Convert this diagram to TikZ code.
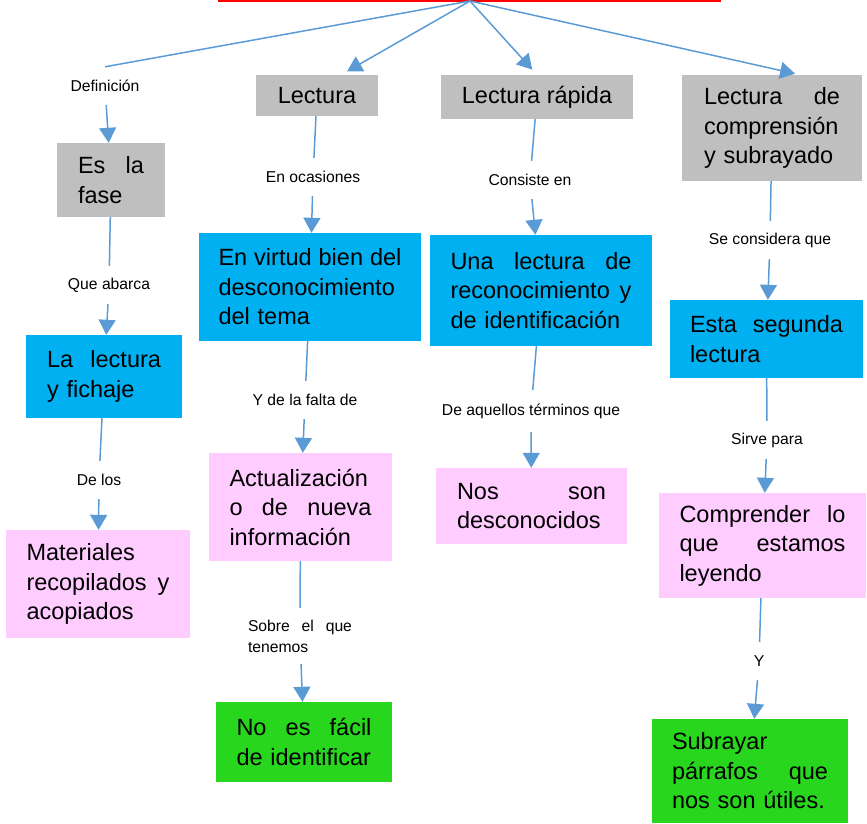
\documentclass[tikz,border=0pt]{standalone}
\usepackage{fontspec}
\setmainfont{Liberation Sans}
\usetikzlibrary{arrows.meta}

\definecolor{boxgray}{RGB}{191,191,191}
\definecolor{boxcyan}{RGB}{0,176,240}
\definecolor{boxpink}{RGB}{255,204,255}
\definecolor{boxgreen}{RGB}{41,214,30}
\definecolor{linkblue}{RGB}{91,155,213}

% one justified line inside a box
\newcommand{\jl}[1]{\makebox[\hsize][s]{\spaceskip=.278em plus 1fil\relax #1}}

\tikzset{
  concept/.style={inner sep=0pt, align=left, font=\fontsize{23.5}{29.5}\selectfont},
  lbl/.style={inner sep=0pt, minimum height=38pt, align=left, font=\fontsize{15.7}{21}\selectfont},
  link/.style={linkblue, line width=1.5pt},
  arrow/.style={link, -{Triangle[width=17pt,length=15pt]}}
}

\begin{document}
\begin{tikzpicture}[x=1pt,y=-1pt]
\useasboundingbox (0,0) rectangle (867,824);

\draw[red, line width=2pt] (218,1) -- (721,1);
\coordinate (hub) at (470,1);

% first row
\node[concept, fill=boxgray, minimum width=122pt, minimum height=41pt, align=center] (lectura) at (317,95.5) {Lectura};
\node[concept, fill=boxgray, minimum width=192pt, minimum height=44pt, align=center] (rapida) at (537,97) {Lectura rápida};
\node[concept, fill=boxgray, minimum width=180pt, minimum height=106pt, text width=136pt] (comp) at (772,128) {\jl{Lectura de}\\comprensión\\y subrayado};
\node[concept, fill=boxgray, minimum width=108pt, minimum height=74pt, text width=66pt] (fase) at (111,180) {\jl{Es la}\\fase};

% second row
\node[concept, fill=boxcyan, minimum width=156pt, minimum height=83pt, text width=114pt] (fichaje) at (104,376.5) {\jl{La lectura}\\y fichaje};
\node[concept, fill=boxcyan, minimum width=222pt, minimum height=108pt, text width=183pt] (virtud) at (310,287) {\jl{En virtud bien del}\\desconocimiento\\del tema};
\node[concept, fill=boxcyan, minimum width=222pt, minimum height=111pt, text width=181pt] (una) at (541,290.5) {\jl{Una lectura de}\\\jl{reconocimiento y}\\de identificación};
\node[concept, fill=boxcyan, minimum width=193pt, minimum height=78pt, text width=153pt] (esta) at (766.5,339) {\jl{Esta segunda}\\lectura};

% third row
\node[concept, fill=boxpink, minimum width=184pt, minimum height=108pt, text width=143pt] (materiales) at (98,584) {Materiales\\\jl{recopilados y}\\acopiados};
\node[concept, fill=boxpink, minimum width=183pt, minimum height=108pt, text width=142pt] (actual) at (300.5,507) {Actualización\\\jl{o de nueva}\\información};
\node[concept, fill=boxpink, minimum width=191pt, minimum height=76pt, text width=149pt] (nos) at (531.5,506) {\jl{Nos son}\\desconocidos};
\node[concept, fill=boxpink, minimum width=207pt, minimum height=105pt, text width=166pt] (compr) at (762.5,545.5) {\jl{Comprender lo}\\\jl{que estamos}\\leyendo};

% last row
\node[concept, fill=boxgreen, minimum width=176pt, minimum height=80pt, text width=135pt] (facil) at (304,742) {\jl{No es fácil}\\de identificar};
\node[concept, fill=boxgreen, minimum width=196pt, minimum height=104pt, text width=156pt] (subr) at (750,771) {Subrayar\\\jl{párrafos que}\\nos son útiles.};

% labels on the links
\node[lbl] (def) at (105,86) {Definición};
\node[lbl] (abarca) at (109,285) {Que abarca};
\node[lbl] (delos) at (99,480) {De los};
\node[lbl] (ocasiones) at (313,177) {En ocasiones};
\node[lbl] (falta) at (305,400) {Y de la falta de};
\node[lbl, minimum height=56pt, text width=104pt] (sobre) at (300,636) {\jl{Sobre el que}\\tenemos};
\node[lbl] (consiste) at (530,180) {Consiste en};
\node[lbl, minimum height=42pt] (aquellos) at (531,411) {De aquellos términos que};
\node[lbl] (considera) at (770,240) {Se considera que};
\node[lbl] (sirve) at (767,440) {Sirve para};
\node[lbl] (ylab) at (759,661) {Y};

% links from the top
\draw[link] (hub) -- (def.north);
\draw[arrow, shorten >=7pt] (hub) -- ([xshift=24pt]lectura.north);
\draw[arrow, shorten >=7pt] (hub) -- (rapida.north);
\draw[arrow, shorten >=5pt] (hub) -- ([xshift=28pt]comp.north);

% first column
\draw[arrow] (def) -- (fase);
\draw[link] (fase) -- (abarca);
\draw[arrow] (abarca) -- (fichaje);
\draw[link] (fichaje) -- (delos);
\draw[arrow] (delos) -- (materiales);

% second column
\draw[link] (lectura) -- (ocasiones);
\draw[arrow] (ocasiones) -- (virtud);
\draw[link] (virtud) -- (falta);
\draw[arrow] (falta) -- (actual);
\draw[link] (actual) -- (sobre);
\draw[arrow] (sobre) -- (facil);

% third column
\draw[link] (rapida) -- (consiste);
\draw[arrow] (consiste) -- (una);
\draw[link] (una) -- (aquellos);
\draw[arrow] (aquellos) -- (nos);

% fourth column
\draw[link] (comp) -- (considera);
\draw[arrow] (considera) -- (esta);
\draw[link] (esta) -- (sirve);
\draw[arrow] (sirve) -- (compr);
\draw[link] (compr) -- (ylab);
\draw[arrow] (ylab) -- (subr);
\end{tikzpicture}
\end{document}
